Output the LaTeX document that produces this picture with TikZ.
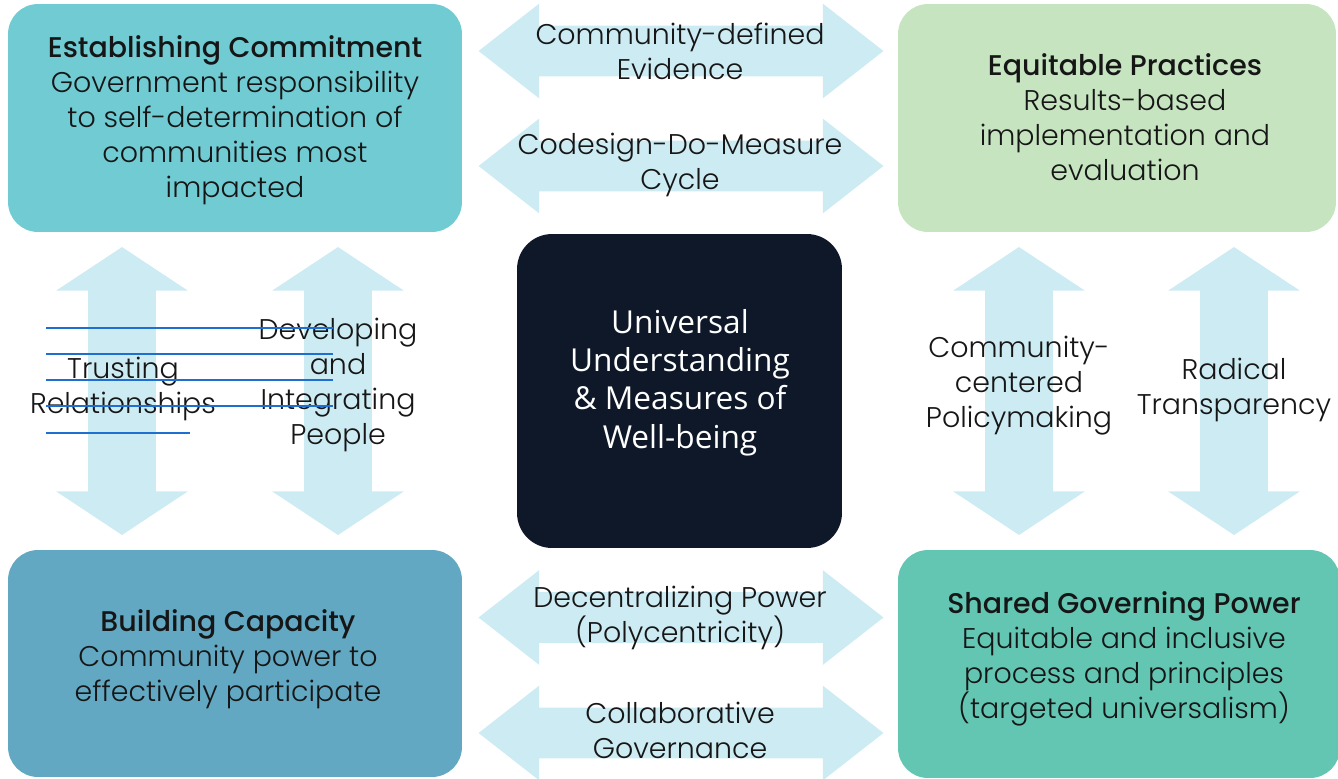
\documentclass[tikz,border=0pt]{standalone}
\usepackage{fontspec}
\setmainfont{Poppins}[UprightFont=* Light, BoldFont=* Medium]
\newfontfamily\hubfont{Open Sans}
\usetikzlibrary{shapes.arrows,positioning}
\definecolor{commitcol}{HTML}{70CBD3}
\definecolor{practcol}{HTML}{C6E4C0}
\definecolor{hubcol}{HTML}{0E1828}
\definecolor{capcol}{HTML}{62A8C2}
\definecolor{govcol}{HTML}{62C6B2}
\definecolor{arrowcol}{HTML}{CDEBF3}
\definecolor{inkcol}{HTML}{161616}
\definecolor{strikecol}{HTML}{1E6FCF}
\tikzset{
  box/.style={rounded corners=0.6cm, inner sep=0pt},
  txt/.style={align=center, text=inkcol, inner sep=0pt,
    font=\fontsize{16.2}{19.9}\selectfont},
  harrow/.style={double arrow, fill=arrowcol, inner sep=0.5cm,
    minimum height=8.1cm, minimum width=1.88cm,
    double arrow head extend=0.44cm, double arrow tip angle=76},
  varrow/.style={double arrow, rotate=90, fill=arrowcol, inner sep=0.67cm,
    minimum height=5.76cm, minimum width=2.62cm,
    double arrow head extend=0.64cm, double arrow tip angle=113},
  strike/.style={strikecol, line width=0.85pt}
}
\begin{document}
\begin{tikzpicture}[x=0.02cm, y=-0.02cm]
  \useasboundingbox (0,0) rectangle (1338,778);

  % block arrows between the boxes
  \node[harrow] (evidence)  at (681,51)    {};
  \node[harrow] (cycle)     at (681,166)   {};
  \node[harrow] (decentral) at (681,617.5) {};
  \node[harrow] (collab)    at (681,733)   {};
  \node[varrow] (trust)     at (122,391)   {};
  \node[varrow] (develop)   at (338,391)   {};
  \node[varrow] (policy)    at (1019,391)  {};
  \node[varrow] (transp)    at (1234,391)  {};

  % the five boxes
  \node[box, fill=commitcol, minimum width=9.08cm, minimum height=4.56cm] (commit) at (235,118) {};
  \node[box, fill=practcol, minimum width=8.76cm, minimum height=4.56cm] (practices) at (1117,118) {};
  \node[box, fill=hubcol, rounded corners=0.7cm, minimum width=6.5cm, minimum height=6.28cm] (hub) at (679.5,391) {};
  \node[box, fill=capcol, minimum width=9.08cm, minimum height=4.54cm] (capacity) at (235,663.5) {};
  \node[box, fill=govcol, minimum width=8.84cm, minimum height=4.56cm] (governing) at (1119,664) {};

  \node[txt] (commit-txt) at (235,120)
    {\textbf{Establishing Commitment}\\Government responsibility\\to self-determination of\\communities most\\impacted};
  \node[txt] (practices-txt) at (1125,117)
    {\textbf{Equitable Practices}\\Results-based\\implementation and\\evaluation};
  \node[txt, text=white, font=\hubfont\fontsize{18}{21.8}\selectfont] (hub-txt) at (680,382.5)
    {Universal\\Understanding\\\& Measures of\\Well-being};
  \node[txt] (capacity-txt) at (228,659.5)
    {\textbf{Building Capacity}\\Community power to\\effectively participate};
  \node[txt] (governing-txt) at (1124,659)
    {\textbf{Shared Governing Power}\\Equitable and inclusive\\process and principles\\(targeted universalism)};

  % arrow labels
  \node[txt] (evidence-txt)  at (680,51)    {Community-defined\\Evidence};
  \node[txt] (cycle-txt)     at (680,165)   {Codesign-Do-Measure\\Cycle};
  \node[txt] (decentral-txt) at (680,617.5) {Decentralizing Power\\(Polycentricity)};
  \node[txt] (collab-txt)    at (680,730.5) {Collaborative\\Governance};
  \node[txt] (trust-txt)     at (123,389)   {Trusting\\Relationships};
  \node[txt] (develop-txt)   at (338,385)   {Developing\\and\\Integrating\\People};
  \node[txt] (policy-txt)    at (1019,386)  {Community-\\centered\\Policymaking};
  \node[txt] (transp-txt)    at (1234,389.5){Radical\\Transparency};

  % stray rules over the left labels
  \foreach \y in {328,354,380,406}
    \draw[strike] (46,\y) -- (333,\y);
  \draw[strike] (46,433) -- (190,433);
\end{tikzpicture}
\end{document}
